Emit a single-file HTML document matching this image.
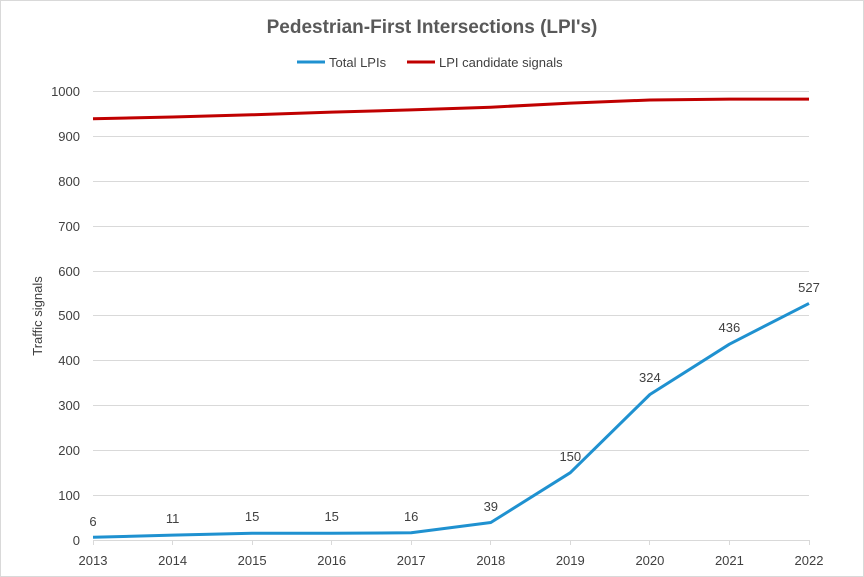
<!DOCTYPE html>
<html><head><meta charset="utf-8"><style>body{margin:0;background:#fff}svg{display:block}</style></head><body>
<svg width="864" height="577" xmlns="http://www.w3.org/2000/svg" font-family="Liberation Sans, sans-serif">
<rect x="0.5" y="0.5" width="863" height="576" fill="#fff" stroke="#d9d9d9"/>
<text x="432" y="33" text-anchor="middle" font-size="19" font-weight="bold" fill="#595959">Pedestrian-First Intersections (LPI's)</text>
<line x1="297" y1="62" x2="325" y2="62" stroke="#1f91d0" stroke-width="3"/>
<text x="329" y="67" font-size="13" fill="#404040">Total LPIs</text>
<line x1="407" y1="62" x2="435" y2="62" stroke="#c00000" stroke-width="3"/>
<text x="439" y="67" font-size="13" fill="#404040">LPI candidate signals</text>
<g stroke="#d9d9d9" stroke-width="1">
<line x1="93" x2="809" y1="91.5" y2="91.5"/><line x1="93" x2="809" y1="136.5" y2="136.5"/><line x1="93" x2="809" y1="181.5" y2="181.5"/><line x1="93" x2="809" y1="226.5" y2="226.5"/><line x1="93" x2="809" y1="271.5" y2="271.5"/><line x1="93" x2="809" y1="315.5" y2="315.5"/><line x1="93" x2="809" y1="360.5" y2="360.5"/><line x1="93" x2="809" y1="405.5" y2="405.5"/><line x1="93" x2="809" y1="450.5" y2="450.5"/><line x1="93" x2="809" y1="495.5" y2="495.5"/><line x1="93" x2="809" y1="540.5" y2="540.5"/>
<line x1="93.5" x2="93.5" y1="540" y2="545"/><line x1="172.5" x2="172.5" y1="540" y2="545"/><line x1="252.5" x2="252.5" y1="540" y2="545"/><line x1="331.5" x2="331.5" y1="540" y2="545"/><line x1="411.5" x2="411.5" y1="540" y2="545"/><line x1="490.5" x2="490.5" y1="540" y2="545"/><line x1="570.5" x2="570.5" y1="540" y2="545"/><line x1="649.5" x2="649.5" y1="540" y2="545"/><line x1="729.5" x2="729.5" y1="540" y2="545"/><line x1="809.5" x2="809.5" y1="540" y2="545"/>
</g>
<g font-size="13" fill="#404040" text-anchor="end">
<text x="80" y="96">1000</text><text x="80" y="141">900</text><text x="80" y="186">800</text><text x="80" y="231">700</text><text x="80" y="276">600</text><text x="80" y="320">500</text><text x="80" y="365">400</text><text x="80" y="410">300</text><text x="80" y="455">200</text><text x="80" y="500">100</text><text x="80" y="545">0</text>
</g>
<g font-size="13" fill="#404040" text-anchor="middle">
<text x="93" y="565">2013</text><text x="172.6" y="565">2014</text><text x="252.1" y="565">2015</text><text x="331.7" y="565">2016</text><text x="411.2" y="565">2017</text><text x="490.8" y="565">2018</text><text x="570.3" y="565">2019</text><text x="649.9" y="565">2020</text><text x="729.4" y="565">2021</text><text x="809" y="565">2022</text>
</g>
<text transform="translate(42,316) rotate(-90)" font-size="13" fill="#404040" text-anchor="middle">Traffic signals</text>
<polyline fill="none" stroke="#c00000" stroke-width="3" stroke-linejoin="round" points="93,118.8 172.6,117 252.1,114.8 331.7,112.1 411.2,109.9 490.8,107.2 570.3,103.1 649.9,100 729.4,99.1 809,99.1"/>
<polyline fill="none" stroke="#1f91d0" stroke-width="3" stroke-linejoin="round" points="93,537.3 172.6,535.1 252.1,533.3 331.7,533.3 411.2,532.8 490.8,522.5 570.3,472.7 649.9,394.5 729.4,344.2 809,303.4"/>
<g font-size="13" fill="#404040" text-anchor="middle">
<text x="93" y="526">6</text><text x="172.6" y="523">11</text><text x="252.1" y="521">15</text><text x="331.7" y="521">15</text><text x="411.2" y="521">16</text><text x="490.8" y="511">39</text><text x="570.3" y="461">150</text><text x="649.9" y="382">324</text><text x="729.4" y="332">436</text><text x="809" y="292">527</text>
</g>
</svg>
</body></html>
